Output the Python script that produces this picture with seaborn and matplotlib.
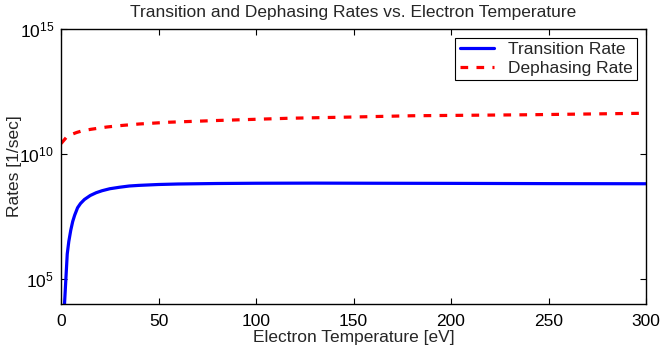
import numpy as np
import pandas as pd
import matplotlib
matplotlib.use("Agg")
import matplotlib.pyplot as plt
import seaborn as sns

# --- data (temperature in eV, log10 of rate in 1/sec) ---
trans_T = [1.8, 2.5, 3.2, 4.0, 5.0, 6.0, 7.0, 8.5, 10, 12, 15, 18, 21, 25, 30,
           35, 40, 50, 60, 80, 100, 130, 160, 200, 250, 300]
trans_log = [4.0, 5.0, 6.0, 6.5, 6.95, 7.3, 7.55, 7.85, 8.02, 8.18, 8.34, 8.45,
             8.53, 8.61, 8.67, 8.72, 8.745, 8.78, 8.80, 8.82, 8.83, 8.835,
             8.83, 8.825, 8.815, 8.81]

deph_T = [0, 0.5, 1.5, 2.9, 5, 8, 11, 15.5, 23.5, 31, 40, 55, 80, 117, 150,
          180, 210, 240, 270, 300]
deph_log = [10.42, 10.46, 10.55, 10.68, 10.77, 10.86, 10.93, 10.99, 11.08,
            11.14, 11.2, 11.27, 11.34, 11.43, 11.48, 11.53, 11.55, 11.57,
            11.60, 11.63]

xticks = [0, 50, 100, 150, 200, 250, 300]
yticks = [1e5, 1e10, 1e15]

trans = pd.DataFrame({"T": trans_T, "rate": 10.0 ** np.array(trans_log)})
deph = pd.DataFrame({"T": deph_T, "rate": 10.0 ** np.array(deph_log)})

sns.set_style("ticks")
plt.rcParams["font.family"] = ["Liberation Sans", "DejaVu Sans"]
plt.rcParams["mathtext.fontset"] = "custom"
plt.rcParams["mathtext.rm"] = "Liberation Sans"
plt.rcParams["mathtext.it"] = "Liberation Sans"
plt.rcParams["mathtext.bf"] = "Liberation Sans"
fs = 12.5

fig = plt.figure(figsize=(6.61, 3.56), dpi=100)
ax = fig.add_axes([61 / 661, 1 - 304 / 356, 585 / 661, 275 / 356])

sns.lineplot(data=trans, x="T", y="rate", ax=ax, color="#0000ff", lw=2.3,
             label="Transition Rate", estimator=None, sort=False)
sns.lineplot(data=deph, x="T", y="rate", ax=ax, color="#ff0000", lw=2.3,
             label="Dephasing Rate", estimator=None, sort=False)
ax.lines[1].set_dashes([2.4, 2.6])
ax.lines[1].set_dash_capstyle("butt")

ax.set_yscale("log")
ax.set_xlim(0, 300)
ax.set_ylim(1e4, 1e15)
ax.set_xticks(xticks)
ax.set_yticks(yticks)
ax.yaxis.set_minor_locator(matplotlib.ticker.NullLocator())

for s in ax.spines.values():
    s.set_visible(True)
    s.set_linewidth(1.0)
    s.set_color("black")
ax.tick_params(direction="in", length=4, width=0.8, top=True, right=True,
               labelsize=fs, colors="black", pad=5)
ax.tick_params(axis="x", pad=7)

ax.set_xlabel("Electron Temperature [eV]", fontsize=fs)
ax.set_ylabel("Rates [1/sec]", fontsize=fs)
ax.xaxis.set_label_coords(0.5, -0.095)
ax.yaxis.set_label_coords(-0.066, 0.5)
ax.set_title("Transition and Dephasing Rates vs. Electron Temperature",
             fontsize=fs, pad=9)

leg = ax.legend(loc="upper right", fontsize=fs, frameon=True, fancybox=False,
                borderaxespad=0.5, handlelength=2.0, borderpad=0.25,
                labelspacing=0.2, handletextpad=0.8)
leg.get_frame().set_edgecolor("black")
leg.get_frame().set_linewidth(0.8)
leg.get_frame().set_alpha(1)

fig.savefig("out.png", dpi=100)
